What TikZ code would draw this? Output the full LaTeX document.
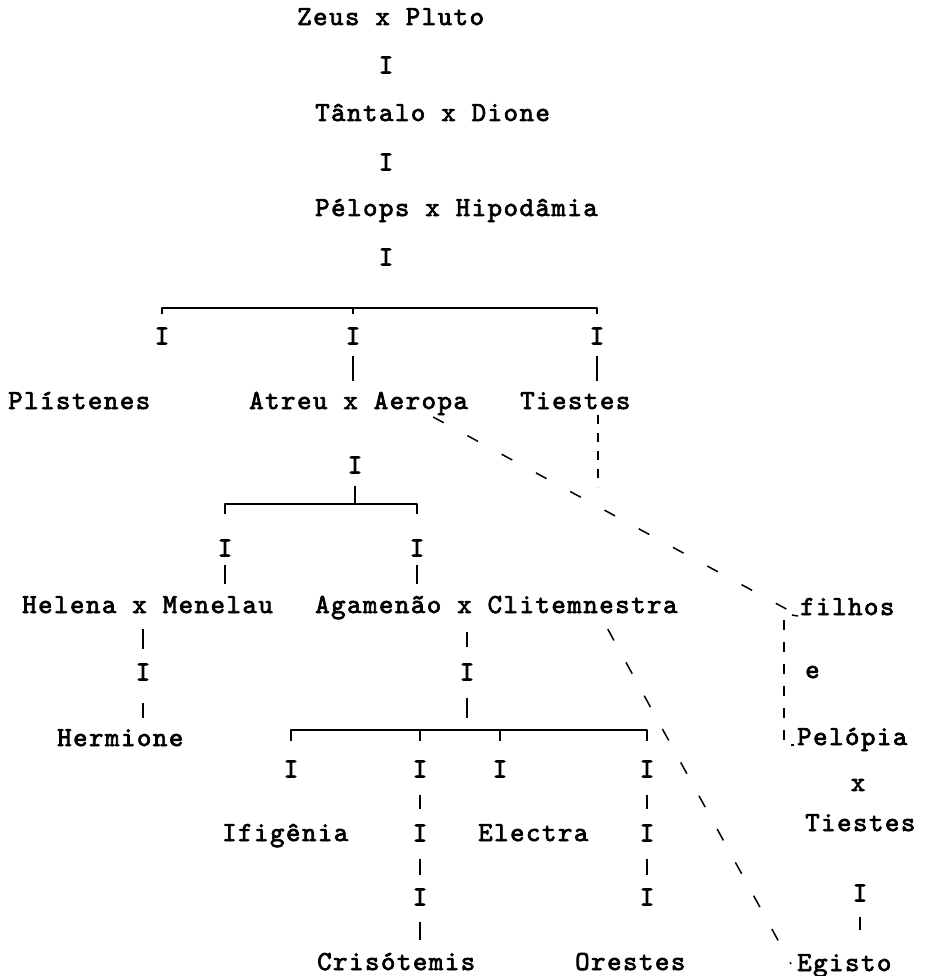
\documentclass[tikz,border=0pt]{standalone}
\usepackage{fontspec}
\newfontfamily\tw{lmmono10-regular}[Extension=.otf, FakeBold=2.6, LetterSpace=5.5]
\newcommand\typewr{\tw\fontsize{27.5pt}{30pt}\selectfont}
\usetikzlibrary{calc}

\tikzset{
    typed/.style={font=\typewr, inner sep=0pt, anchor=base west},
    gen/.style={font=\typewr, inner sep=0pt},
    famline/.style={line width=1.8pt, line join=round},
    stemline/.style={line width=2.2pt},
    dashlink/.style={line width=1.5pt, dash pattern=on 12pt off 27pt},
    shortdash/.style={line width=1.5pt, dash pattern=on 9pt off 9pt},
}

\begin{document}
\begin{tikzpicture}[x=1pt, y=-1pt]
    \useasboundingbox (0,0) rectangle (924,976);

    \node[typed] (zeus) at (297,25) {Zeus x Pluto};
    \node[gen] (g1) at (386,65) {I};
    \node[typed] (tantalo) at (315,121) {Tântalo x Dione};
    \node[gen] (g2) at (386,162) {I};
    \node[typed] (pelops) at (315,216) {Pélops x Hipodâmia};
    \node[gen] (g3) at (386,257) {I};

    \node[gen] (g4) at (162,336) {I};
    \node[gen] (g5) at (353,336) {I};
    \node[gen] (g6) at (597,336) {I};
    \node[typed] (plistenes) at (8,409) {Plístenes};
    \node[typed] (atreu) at (249,409) {Atreu x Aeropa};
    \node[typed] (tiestes) at (520,409) {Tiestes};

    \node[gen] (g7) at (355,465) {I};
    \node[gen] (g8) at (225,548) {I};
    \node[gen] (g9) at (417,548) {I};
    \node[typed] (helena) at (22,613) {Helena x Menelau};
    \node[typed] (agamenao) at (315,613) {Agamenão x Clitemnestra};

    \node[gen] (g10) at (143,672) {I};
    \node[typed] (hermione) at (57,746) {Hermione};
    \node[gen] (g11) at (467,672) {I};

    \node[gen] (g12) at (291,769) {I};
    \node[gen] (g13) at (420,769) {I};
    \node[gen] (g14) at (500,769) {I};
    \node[gen] (g15) at (647,769) {I};
    \node[typed] (ifigenia) at (222,841) {Ifigênia};
    \node[typed] (electra) at (478,841) {Electra};
    \node[gen] (g16) at (420,833) {I};
    \node[gen] (g17) at (647,833) {I};
    \node[gen] (g18) at (420,897) {I};
    \node[gen] (g19) at (647,897) {I};
    \node[typed] (crisotemis) at (317,970) {Crisótemis};
    \node[typed] (orestes) at (575,970) {Orestes};

    \node[typed] (filhos) at (800,615) {filhos};
    \node[typed] (conj) at (805,678) {e};
    \node[typed] (pelopia) at (797,745) {Pelópia};
    \node[gen] (cross) at (858,785) {x};
    \node[typed] (tiestesb) at (805,831) {Tiestes};
    \node[gen] (g20) at (860,893) {I};
    \node[typed] (egisto) at (797,971) {Egisto};

    \coordinate (bar1) at (0,308);
    \coordinate (bar2) at (0,504);
    \coordinate (bar3) at (0,730);

    \draw[famline] ($(g4.north)+(0,-13)$) -- (g4.north |- bar1) -- (g6.north |- bar1) -- ($(g6.north)+(0,-13)$);
    \draw[famline] (g5.north |- bar1) -- ($(g5.north)+(0,-13)$);
    \draw[famline] ($(g8.north)+(0,-25)$) -- (g8.north |- bar2) -- (g9.north |- bar2) -- ($(g9.north)+(0,-25)$);
    \draw[famline] ($(g12.north)+(0,-19)$) -- (g12.north |- bar3) -- (g15.north |- bar3) -- ($(g15.north)+(0,-19)$);
    \draw[famline] (g13.north |- bar3) -- ($(g13.north)+(0,-19)$);
    \draw[famline] (g14.north |- bar3) -- ($(g14.north)+(0,-19)$);

    \draw[stemline] (g5.south) ++(0,11) -- ++(0,25);
    \draw[stemline] (g6.south) ++(0,11) -- ++(0,25);
    \draw[stemline] (g7.south) ++(0,12) -- (g7.south |- bar2);
    \draw[stemline] (g8.south) ++(0,8) -- ++(0,19);
    \draw[stemline] (g9.south) ++(0,8) -- ++(0,19);
    \draw[stemline] (g10.north) ++(0,-14) -- ++(0,-20);
    \draw[stemline] (g10.south) ++(0,22) -- ++(0,15);
    \draw[stemline] (g11.north) ++(0,-16) -- ++(0,-15);
    \draw[stemline] (g11.south) ++(0,17) -- ++(0,20);
    \draw[stemline] (g13.south) ++(0,17) -- ++(0,14);
    \draw[stemline] (g16.south) ++(0,17) -- ++(0,16);
    \draw[stemline] (g18.south) ++(0,16) -- ++(0,18);
    \draw[stemline] (g15.south) ++(0,17) -- ++(0,14);
    \draw[stemline] (g17.south) ++(0,17) -- ++(0,16);
    \draw[stemline] (g20.south) ++(0,15) -- ++(0,13);

    \coordinate (fork) at ($(filhos.base west)+(-16,5)$);
    \draw[dashlink] ($(atreu.base east)+(-35,8)$) -- ($(filhos.base west)+(-10,-4)$);
    \draw[line width=1.5pt] ($(filhos.base west)+(-8,0)$) -- ($(filhos.base west)+(-2,1)$);
    \draw[shortdash] ($(tiestes.base west)+(78,6)$) -- ++(0,72);
    \draw[dashlink, dash pattern=on 13pt off 25pt] ($(agamenao.base east)+(-70,16)$) -- ($(egisto.base west)+(-6,-7)$);
    \draw[shortdash, dash pattern=on 10pt off 12pt] (fork) -- (fork |- pelopia.base) -- ($(pelopia.base west)+(-3,0)$);
\end{tikzpicture}
\end{document}
